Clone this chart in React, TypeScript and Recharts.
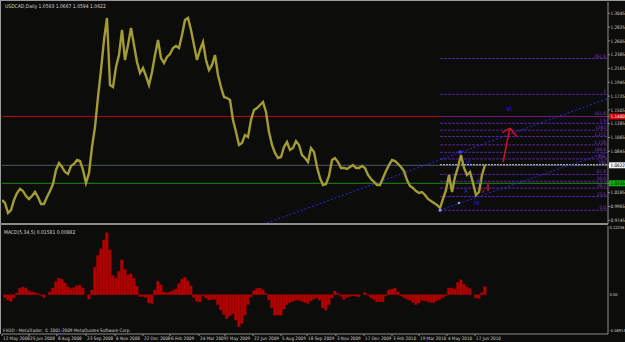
import { ComposedChart, Line, Bar, XAxis, YAxis, ReferenceLine, ReferenceDot, Scatter } from 'recharts'

// one sample every 3 px of the original chart (daily bars squeezed together)
const closes = [
  1.0069, 1.0021, 0.9861, 0.9909, 1.0069, 1.018, 1.0244, 1.0212, 1.0132, 1.0085,
  1.0132, 1.0196, 1.0116, 1.0005, 1.0005, 1.0116, 1.0212, 1.0324, 1.0547, 1.0658,
  1.0595, 1.0515, 1.0483, 1.0611, 1.0643, 1.0706, 1.069, 1.0547, 1.034, 1.0499,
  1.0914, 1.1232, 1.1711, 1.2141, 1.2619, 1.297, 1.1902, 1.187, 1.2189, 1.238,
  1.2779, 1.23, 1.254, 1.2811, 1.254, 1.2269, 1.2093, 1.2173, 1.2045, 1.1902,
  1.2109, 1.238, 1.2619, 1.2332, 1.2253, 1.2348, 1.2396, 1.2492, 1.2524, 1.2492,
  1.2699, 1.2938, 1.297, 1.2779, 1.254, 1.23, 1.246, 1.2587, 1.23, 1.2141,
  1.2221, 1.238, 1.2061, 1.187, 1.1711, 1.1695, 1.1663, 1.1344, 1.1153, 1.0945,
  1.0977, 1.1105, 1.1073, 1.1344, 1.1503, 1.1535, 1.1583, 1.1631, 1.1471, 1.1153,
  1.0945, 1.0818, 1.0738, 1.0754, 1.0914, 1.0993, 1.0866, 1.0898, 1.1009, 1.0945,
  1.0786, 1.0738, 1.0674, 1.0898, 1.0834, 1.0595, 1.0419, 1.0308, 1.0324, 1.0451,
  1.0706, 1.0738, 1.0674, 1.0579, 1.0579, 1.0563, 1.0595, 1.0627, 1.0579, 1.0579,
  1.0611, 1.0579, 1.0467, 1.0403, 1.0356, 1.0308, 1.0308, 1.0419, 1.0531, 1.0627,
  1.0706, 1.069, 1.0643, 1.0595, 1.0531, 1.0387, 1.0292, 1.026, 1.0212, 1.018,
  1.0196, 1.0148, 1.0085, 1.0053, 1.0021, 0.9989, 0.9941, 1.0085, 1.0228, 1.0467,
  1.0196, 1.0435, 1.0595, 1.0786, 1.0579, 1.0467, 1.0515, 1.034, 1.0148, 1.0196,
  1.0467, 1.0627,
]

const macd = [
  0, -0.005, -0.0096, -0.012, -0.006, 0.003, 0.0116, 0.014, 0.012, 0.007,
  0.005, 0.004, 0.002, -0.001, -0.005, 0, 0.005, 0.012, 0.0236, 0.03,
  0.028, 0.021, 0.014, 0.011, 0.013, 0.016, 0.0176, 0.012, 0, -0.008,
  0.0085, 0.05, 0.071, 0.083, 0.099, 0.112, 0.081, 0.035, 0.03, 0.042,
  0.063, 0.046, 0.036, 0.038, 0.03, 0.015, -0.0036, -0.003, -0.005, -0.015,
  -0.016, 0.0085, 0.024, 0.018, 0.005, 0.0036, 0.005, 0.007, 0.01, 0.02,
  0.028, 0.0315, 0.025, 0.016, -0.005, -0.012, -0.013, -0.002, -0.006, -0.0096,
  -0.009, -0.0085, -0.018, -0.0278, -0.036, -0.043, -0.038, -0.034, -0.046, -0.058,
  -0.052, -0.037, -0.018, -0.004, 0.007, 0.011, 0.012, 0.009, 0.002, -0.0096,
  -0.024, -0.037, -0.037, -0.037, -0.026, -0.018, -0.014, -0.012, -0.01, -0.01,
  -0.012, -0.014, -0.0157, -0.011, -0.008, -0.006, -0.01, -0.024, -0.028, -0.018,
  -0.006, 0.0066, 0.002, -0.003, -0.0085, -0.005, -0.003, -0.002, -0.003, -0.0036,
  0, 0.0036, -0.001, -0.006, -0.009, -0.0127, -0.0127, -0.0127, -0.002, 0.0085,
  0.01, 0.0116, 0.005, -0.002, -0.005, -0.008, -0.01, -0.014, -0.018, -0.015,
  -0.01, -0.011, -0.0127, -0.014, -0.0145, -0.011, -0.0085, -0.005, -0.002, 0.012,
  0.012, 0.01, 0.022, 0.027, 0.019, 0.014, 0.011, 0, -0.006, -0.007,
  0.0036, 0.0145,
]

const dateTicks = [0, 9, 18.3, 28, 37.7, 47, 56, 65.7, 74.3, 83.7, 93, 101.7, 111.3, 120.7, 130, 139, 148.3, 157.7]
const dateLabels = [
  '12 May 2008', '25 Jun 2008', '8 Aug 2008', '23 Sep 2008', '6 Nov 2008', '22 Dec 2008',
  '6 Feb 2009', '24 Mar 2009', '7 May 2009', '22 Jun 2009', '5 Aug 2009', '18 Sep 2009',
  '3 Nov 2009', '17 Dec 2009', '3 Feb 2010', '19 Mar 2010', '4 May 2010', '17 Jun 2010',
]

const priceTicks = [1.3045, 1.2825, 1.2605, 1.2385, 1.2165, 1.1945, 1.1725, 1.1505, 1.1285, 1.1065, 1.0845, 1.0185, 0.9965, 0.9745]
const redLevel = 1.14
const bidLevel = 1.0622
const greenLevel = 1.0335
const macdTicks = [0.12236, 0, -0.06514]

const fibLow = 0.9905
const fibHigh = 1.0829
const fibRatios = [0, 23.6, 38.2, 50, 61.8, 78.6, 88.6, 100, 112.8, 127.2, 138.2, 150, 161.8, 200, 261.8]
const fibLabels = ['0.0', '23.6', '38.2', '50.0', '61.8', '786', '886', '100.0', '1.128', '1.272', '1382', '1.5', '161.8', '2', '261.8']
const fibStart = 146
const xEnd = 202

const upperChannel = [{ k: 88.3, p: 0.9702 }, { k: 202, p: 1.1688 }]
const lowerChannel = [{ k: 146, p: 0.9909 }, { k: 202, p: 1.0834 }]
const arrowShaft = [{ k: 167, p: 1.0674 }, { k: 169.3, p: 1.1216 }]
const arrowLeft = [{ k: 166.7, p: 1.1137 }, { k: 169.3, p: 1.1216 }]
const arrowRight = [{ k: 169.3, p: 1.1216 }, { k: 171.7, p: 1.1073 }]
const redTick = [{ k: 162, p: 1.034 }, { k: 162, p: 1.0212 }]

const waveMarks = [
  { k: 169, p: 1.1519, text: 'VI', color: '#2a2ad8' },
  { k: 155.5, p: 1.0674, text: 'III', color: '#2a2ad8' },
  { k: 154.7, p: 1.0212, text: 'A', color: '#2a2ad8' },
  { k: 159, p: 1.0371, text: 'B', color: '#2a2ad8' },
  { k: 160.2, p: 1.0212, text: 'V', color: '#c01020' },
  { k: 158.3, p: 1.0021, text: 'IV', color: '#2a2ad8' },
]

const priceData = closes.map((c, i) => ({ k: i, close: c }))
const macdData = macd.map((v, i) => ({ k: i, macd: v }))

const FONT = "'Liberation Sans Narrow', 'DejaVu Sans Condensed', sans-serif"
const AXIS = '#8c8c8c'

function PriceTick(props: any) {
  const { x, y, payload } = props
  const v = payload.value
  let bg = ''
  let fg = '#d0d0d0'
  if (v === redLevel) { bg = '#d00000'; fg = '#ffffff' }
  if (v === bidLevel) { bg = '#f0f0f0'; fg = '#000000' }
  if (v === greenLevel) { bg = '#10b010'; fg = '#000000' }
  return (
    <g>
      {bg && <rect x={x - 2} y={y - 3} width={16} height={6} fill={bg} />}
      <text x={x - 0.5} y={y + 1.8} fontSize={4.6} fontFamily={FONT} fill={fg}>{v.toFixed(4)}</text>
    </g>
  )
}

function MacdTick(props: any) {
  const { x, y, payload } = props
  const v = payload.value
  const s = v === 0 ? '0.00' : v.toFixed(5)
  return <text x={x - 1.5} y={y + 1.6} fontSize={4} fontFamily={FONT} fill="#d0d0d0">{s}</text>
}

function DateTick(props: any) {
  const { x, y, payload } = props
  const i = dateTicks.indexOf(payload.value)
  return <text x={x + 1} y={y + 4} fontSize={4.6} fontFamily={FONT} fill="#d0d0d0">{dateLabels[i]}</text>
}

function FibLabel(props: any) {
  const { viewBox, text } = props
  if (!viewBox) return null
  return (
    <text x={viewBox.x + viewBox.width - 2} y={viewBox.y - 1} textAnchor="end" fontSize={4.6} fontFamily={FONT} fill="#7a3cc0">
      {text}
    </text>
  )
}

function WaveShape(props: any) {
  const { cx, cy, payload } = props
  return (
    <text x={cx} y={cy + 2} textAnchor="middle" fontSize={6} fontFamily={FONT} fill={payload.color}>{payload.text}</text>
  )
}

export default function App() {
  return (
    <div style={{ position: 'relative', width: 625, height: 342, background: '#0c0c0a', overflow: 'hidden' }}>
      <style>{'body{margin:0}'}</style>
      <div style={{ position: 'absolute', left: 0, top: 0 }}>
        <ComposedChart width={625} height={225} data={priceData} margin={{ top: 2, right: 0, bottom: 1, left: 2 }}>
          <XAxis dataKey="k" type="number" domain={[0, xEnd]} hide allowDataOverflow />
          <YAxis
            orientation="right"
            width={17}
            domain={[0.9686, 1.3225]}
            ticks={[...priceTicks, redLevel, bidLevel, greenLevel]}
            interval={0}
            tick={<PriceTick />}
            tickSize={2}
            tickMargin={1}
            axisLine={{ stroke: AXIS }}
            tickLine={{ stroke: AXIS }}
            allowDataOverflow
          />
          <ReferenceLine y={redLevel} stroke="#c00000" strokeWidth={1} />
          <ReferenceLine y={greenLevel} stroke="#1e8c1e" strokeWidth={1} />
          <ReferenceLine y={bidLevel} stroke="#4c5a68" strokeWidth={1} />
          {fibRatios.map((r, i) => {
            const lvl = fibLow + ((fibHigh - fibLow) * r) / 100
            const light = r === 78.6
            return (
              <ReferenceLine
                key={r}
                segment={[{ x: fibStart, y: lvl }, { x: xEnd, y: lvl }]}
                stroke={light ? '#c8c0dc' : '#5a2494'}
                strokeDasharray={light ? '2 1' : '3 1'}
                strokeWidth={1}
                label={<FibLabel text={fibLabels[i]} />}
              />
            )
          })}
          <ReferenceLine segment={[{ x: upperChannel[0].k, y: upperChannel[0].p }, { x: upperChannel[1].k, y: upperChannel[1].p }]} stroke="#2a2ae0" strokeDasharray="2 2" />
          <ReferenceLine segment={[{ x: lowerChannel[0].k, y: lowerChannel[0].p }, { x: lowerChannel[1].k, y: lowerChannel[1].p }]} stroke="#2a2ae0" strokeDasharray="2 2" />
          <Line dataKey="close" stroke="#a39c34" strokeWidth={2.4} dot={false} isAnimationActive={false} />
          <ReferenceLine segment={[{ x: arrowShaft[0].k, y: arrowShaft[0].p }, { x: arrowShaft[1].k, y: arrowShaft[1].p }]} stroke="#d01020" strokeWidth={1.5} />
          <ReferenceLine segment={[{ x: arrowLeft[0].k, y: arrowLeft[0].p }, { x: arrowLeft[1].k, y: arrowLeft[1].p }]} stroke="#d01020" strokeWidth={1.5} />
          <ReferenceLine segment={[{ x: arrowRight[0].k, y: arrowRight[0].p }, { x: arrowRight[1].k, y: arrowRight[1].p }]} stroke="#d01020" strokeWidth={1.5} />
          <ReferenceLine segment={[{ x: redTick[0].k, y: redTick[0].p }, { x: redTick[1].k, y: redTick[1].p }]} stroke="#d01020" strokeWidth={1.5} />
          <ReferenceDot x={152.7} y={1.0834} r={1.8} fill="#3a3aff" stroke="none" />
          <ReferenceDot x={146} y={0.9905} r={1.5} fill="#9a8cff" stroke="none" />
          <ReferenceDot x={152.3} y={1.0021} r={1.2} fill="#9a9aff" stroke="none" />
          <Scatter data={waveMarks} dataKey="p" shape={<WaveShape />} isAnimationActive={false} />
        </ComposedChart>
      </div>
      <div style={{ position: 'absolute', left: 0, top: 225 }}>
        <ComposedChart width={625} height={117} data={macdData} margin={{ top: 1, right: 0, bottom: 0, left: 2 }}>
          <XAxis
            dataKey="k"
            type="number"
            domain={[0, xEnd]}
            ticks={dateTicks}
            interval={0}
            tick={<DateTick />}
            height={8}
            tickSize={2}
            tickMargin={0}
            axisLine={{ stroke: AXIS }}
            tickLine={{ stroke: AXIS }}
            allowDataOverflow
          />
          <YAxis
            orientation="right"
            width={17}
            domain={[-0.0711, 0.1242]}
            ticks={macdTicks}
            interval={0}
            tick={<MacdTick />}
            tickSize={2}
            tickMargin={1}
            axisLine={{ stroke: AXIS }}
            tickLine={false}
            allowDataOverflow
          />
          <Bar dataKey="macd" fill="#b00000" stroke="#b00000" strokeWidth={0.4} barSize={3} isAnimationActive={false} />
        </ComposedChart>
      </div>
      <svg width={625} height={342} style={{ position: 'absolute', left: 0, top: 0, pointerEvents: 'none' }}>
        <line x1={0} y1={0.5} x2={625} y2={0.5} stroke="#9a9a9a" />
        <line x1={0.5} y1={0} x2={0.5} y2={334} stroke="#9a9a9a" />
        <rect x={0} y={223} width={608} height={2} fill="#8c8c8c" />
        <text x={5} y={8} fontSize={5} fontFamily={FONT} fill="#d8d8d8">USDCAD,Daily  1.0593 1.0667 1.0594 1.0622</text>
        <text x={4} y={234} fontSize={5} fontFamily={FONT} fill="#d8d8d8">MACD(5,34,5) 0.01581 0.00882</text>
        <text x={3} y={332} fontSize={4.6} fontFamily={FONT} fill="#d8d8d8">FXDD - MetaTrader, © 2001-2009 MetaQuotes Software Corp.</text>
      </svg>
    </div>
  )
}
